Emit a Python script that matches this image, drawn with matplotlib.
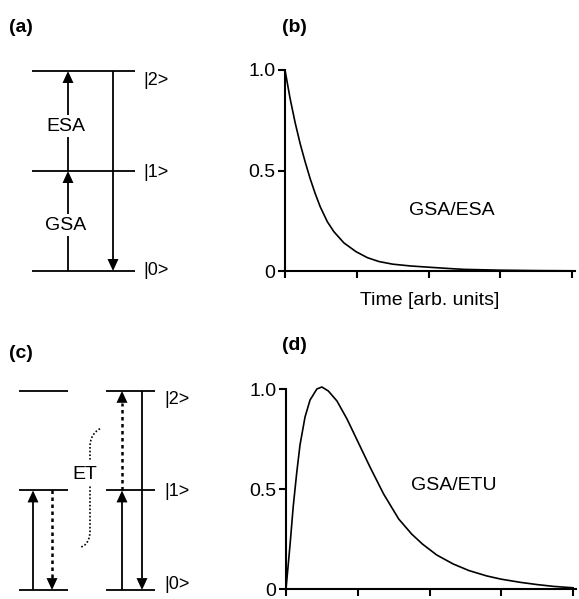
import matplotlib
matplotlib.use('Agg')
import matplotlib.pyplot as plt
from matplotlib.patches import Polygon, PathPatch
from matplotlib.path import Path

plt.rcParams['font.family'] = ['Liberation Sans', 'DejaVu Sans']

# energy levels and their labels
levels = [0, 1, 2]
level_labels = ['|0>', '|1>', '|2>']

# (b) GSA/ESA decay
t_b = [0, 0.07, 0.14, 0.21, 0.28, 0.35, 0.42, 0.49, 0.59, 0.68, 0.82, 0.99,
       1.15, 1.31, 1.5, 1.75, 2.04, 2.3, 2.5, 3.0, 3.5, 4.0]
y_b = [1.0, 0.86, 0.74, 0.635, 0.544, 0.46, 0.386, 0.32, 0.245, 0.196, 0.14, 0.096,
       0.066, 0.047, 0.034, 0.025, 0.018, 0.012, 0.008, 0.004, 0.002, 0.001]

# (d) GSA/ETU rise and decay
t_d = [0, 0.056, 0.10, 0.149, 0.195, 0.265, 0.335, 0.43, 0.50, 0.59, 0.71, 0.85,
       1.01, 1.17, 1.36, 1.57, 1.75, 1.9, 2.1, 2.33, 2.55, 2.8, 3.0, 3.27, 3.5,
       3.73, 4.0]
y_d = [0, 0.22, 0.41, 0.58, 0.72, 0.86, 0.945, 1.0, 1.01, 0.99, 0.94, 0.85,
       0.73, 0.61, 0.475, 0.35, 0.275, 0.225, 0.17, 0.125, 0.092, 0.065, 0.049,
       0.033, 0.022, 0.013, 0.006]

W, H = 579, 599
FS = 14
fig = plt.figure(figsize=(W / 100, H / 100), dpi=100)


def px_axes(left, top, right, bottom):
    return fig.add_axes([left / W, 1 - bottom / H, (right - left) / W, (bottom - top) / H])


def arrow(ax, x, y0, y1, dotted=False):
    s = 1 if y1 > y0 else -1
    hl, hw = 0.12, 5.5
    ls = (0, (1.4, 1.4)) if dotted else '-'
    ax.plot([x, x], [y0, y1 - s * hl], color='black', lw=1.8 if dotted else 1.3,
            ls=ls, solid_capstyle='butt', dash_capstyle='butt')
    ax.add_patch(Polygon([(x - hw, y1 - s * hl), (x + hw, y1 - s * hl), (x, y1)],
                         closed=True, color='black', lw=0))


def levels_lines(ax, x0, x1):
    for lv in levels:
        ax.plot([x0, x1], [lv, lv], color='black', lw=1.3, solid_capstyle='butt')


def level_text(ax, x, offsets):
    # offsets follow the order of levels: |0>, |1>, |2>
    for lv, lab, off in zip(levels, level_labels, offsets):
        ax.text(x, lv + off, lab, fontsize=13, va='center', ha='left')


def decay_axes(ax, t, y, label, lx, ly):
    ax.plot(t, y, color='black', lw=1.2, clip_on=False)
    ax.set_xlim(0, 4.04)
    ax.set_ylim(0, 1)
    ax.set_xticks([0, 1, 2, 3, 4])
    ax.set_xticklabels([])
    ax.set_yticks([0, 0.5, 1.0])
    ax.set_yticklabels(['0', '0.5', '1.0'])
    for sp in ['top', 'right']:
        ax.spines[sp].set_visible(False)
    for sp in ['left', 'bottom']:
        ax.spines[sp].set_linewidth(1.5)
    ax.tick_params(direction='out', length=5, width=1.5, labelsize=FS, pad=2)
    ax.text(lx, ly, label, fontsize=FS, ha='center', va='center')


# (a) GSA/ESA scheme
ax_a = px_axes(0, 51, 200, 291)
ax_a.set_xlim(0, 200)
ax_a.set_ylim(-0.2, 2.2)
ax_a.axis('off')
levels_lines(ax_a, 32, 135)
arrow(ax_a, 68, 0, 1)
arrow(ax_a, 68, 1, 2)
arrow(ax_a, 113, 2, 0)
for txt, yy in [('GSA', 0.46), ('ESA', 1.45)]:
    ax_a.text(66, yy, txt, fontsize=FS, ha='center', va='center', zorder=5,
              bbox=dict(fc='white', ec='none', pad=2))
level_text(ax_a, 143, [0.01, -0.01, -0.09])

# (c) GSA/ETU scheme
ax_c = px_axes(0, 360, 200, 599)
ax_c.set_xlim(0, 200)
ax_c.set_ylim(-0.09, 2.31)
ax_c.axis('off')
levels_lines(ax_c, 19, 68)
levels_lines(ax_c, 106, 155)
arrow(ax_c, 33, 0, 1)
arrow(ax_c, 52, 1, 0, dotted=True)
arrow(ax_c, 122, 0, 1)
arrow(ax_c, 122, 1, 2, dotted=True)
arrow(ax_c, 142, 2, 0)
level_text(ax_c, 164, [0.06, -0.01, -0.09])
brace_top = Path([(100, 1.62), (93, 1.58), (90, 1.52), (90, 1.43), (90, 1.31)],
                 [Path.MOVETO, Path.CURVE4, Path.CURVE4, Path.CURVE4, Path.LINETO])
brace_bot = Path([(90, 1.04), (90, 0.6), (90, 0.5), (86, 0.44), (80, 0.43)],
                 [Path.MOVETO, Path.LINETO, Path.CURVE4, Path.CURVE4, Path.CURVE4])
for p in [brace_top, brace_bot]:
    ax_c.add_patch(PathPatch(p, fc='none', ec='black', lw=1.2, ls=(0, (1, 1.2))))
ax_c.text(85, 1.16, 'ET', fontsize=FS, ha='center', va='center')

# (b) and (d) transients
ax_b = px_axes(285, 70, 575, 271)
decay_axes(ax_b, t_b, y_b, 'GSA/ESA', 2.32, 0.30)
ax_b.set_xlabel('Time [arb. units]', fontsize=FS, labelpad=8)

ax_d = px_axes(286, 389, 576, 589)
decay_axes(ax_d, t_d, y_d, 'GSA/ETU', 2.34, 0.52)

# panel letters
for lab, x, y in [('(a)', 9, 27), ('(b)', 282, 27), ('(c)', 9, 354), ('(d)', 282, 345)]:
    fig.text(x / W, 1 - y / H, lab, fontsize=FS, fontweight='bold', ha='left', va='center')

fig.savefig('out.png', dpi=100)
